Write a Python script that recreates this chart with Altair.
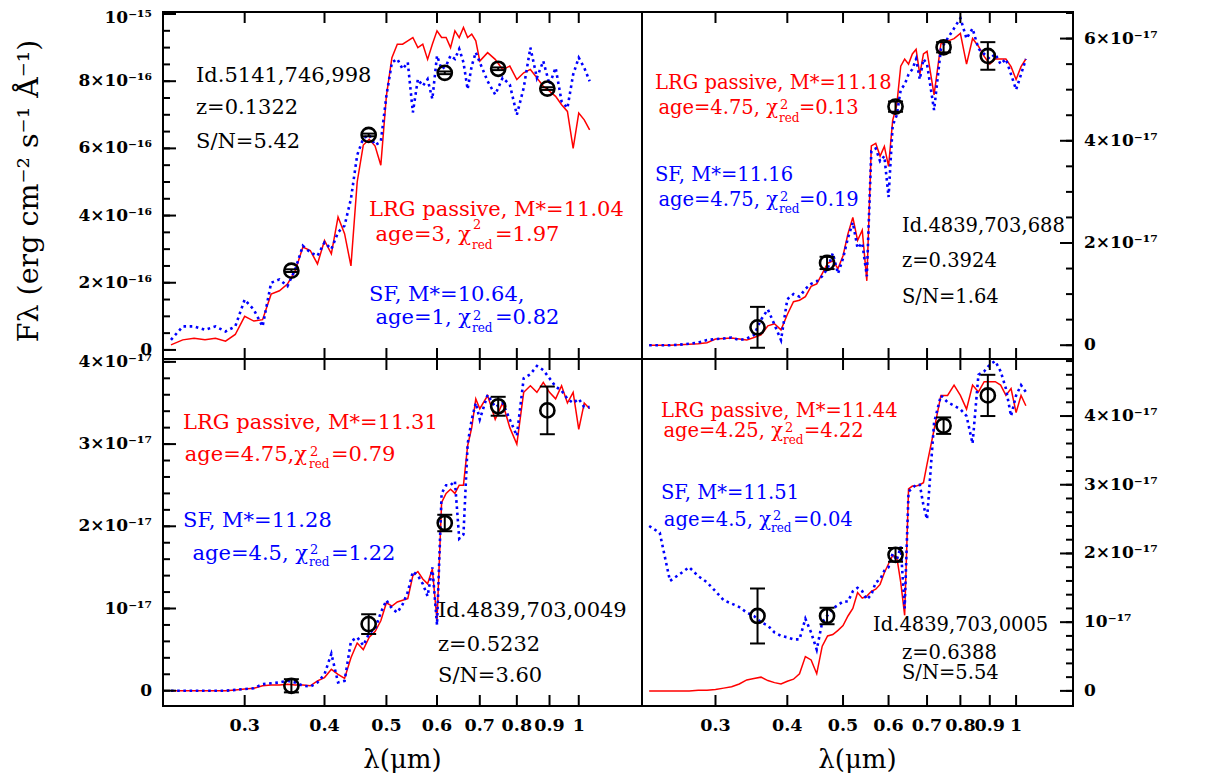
import altair as alt
import pandas as pd

# ---------------- data ----------------
LAM = [0.23, 0.24, 0.25, 0.26, 0.27, 0.28, 0.29, 0.30, 0.31, 0.32,
       0.33, 0.34, 0.35, 0.36, 0.37, 0.38, 0.39, 0.40, 0.41, 0.42,
       0.43, 0.44, 0.45, 0.46, 0.47, 0.48, 0.49, 0.50,
       0.51, 0.52, 0.53, 0.54, 0.55, 0.56, 0.57, 0.58, 0.59, 0.60,
       0.61, 0.62, 0.63, 0.64, 0.65, 0.66, 0.67, 0.68, 0.69, 0.70,
       0.72, 0.74, 0.76, 0.78, 0.80, 0.82, 0.84, 0.86, 0.88, 0.90,
       0.92, 0.94, 0.96, 0.98, 1.00, 1.02, 1.04]

# top-left (units 1e-16)
TL_RED = [0.15, 0.3, 0.35, 0.3, 0.35, 0.26, 0.46, 1.0, 0.86, 0.9,
          1.66, 1.76, 1.96, 2.36, 3.06, 2.96, 2.56, 3.26, 2.86, 3.96,
          3.46, 2.5, 5.0, 6.1, 6.27, 6.07, 5.5, 7.57,
          8.7, 9.1, 9.1, 9.2, 9.3, 9.0, 9.1, 8.65, 9.1, 9.5,
          9.3, 9.3, 9.0, 9.5, 9.3, 9.6, 9.3, 9.4, 9.2, 8.6,
          8.85, 8.65, 8.35, 8.45, 8.05, 8.25, 8.35, 8.1, 7.85, 7.7,
          7.55, 7.3, 7.1, 6.0, 7.05, 6.85, 6.55]
TL_BLUE = [0.3, 0.7, 0.7, 0.6, 0.7, 0.55, 0.7, 1.5, 1.2, 0.7,
           2.0, 2.1, 1.9, 2.4, 3.1, 2.9, 2.8, 3.2, 3.0, 3.5,
           3.7, 4.5, 5.8, 6.3, 6.4, 6.1, 6.2, 7.57,
           8.56, 8.66, 8.36, 8.56, 7.07, 8.06, 7.86, 8.06, 7.47, 8.76,
           8.36, 8.46, 8.76, 8.66, 8.96, 8.56, 7.76, 8.46, 8.86, 8.56,
           8.0, 7.6, 8.1, 7.9, 7.0, 7.8, 9.0, 8.1, 8.6, 7.9,
           8.4, 7.4, 7.2, 8.2, 8.7, 8.4, 8.0]

# top-right (units 1e-17)
TR_RED = [0.0, 0.0, 0.0, 0.01, 0.02, 0.03, 0.05, 0.12, 0.13, 0.14,
          0.12, 0.10, 0.15, 0.2, 0.38, 0.42, 0.3, 0.6, 0.85, 0.88,
          0.95, 1.15, 1.2, 1.4, 1.6, 1.65, 1.5, 1.75,
          2.18, 2.5, 2.05, 2.25, 1.26, 3.9, 3.95, 3.7, 3.89, 3.5,
          4.4, 4.7, 5.46, 5.6, 5.5, 5.7, 5.79, 5.3, 5.7, 5.75,
          4.9, 5.9, 5.95, 6.0, 6.1, 5.5, 6.0, 5.85, 5.65, 5.5,
          5.6, 5.6, 5.6, 5.45, 5.2, 5.45, 5.6]
TR_BLUE = [0.0, 0.0, 0.0, 0.01, 0.03, 0.05, 0.1, 0.12, 0.13, 0.15,
           0.1, 0.13, 0.2, 0.5, 0.7, 0.4, 0.1, 0.9, 1.0, 0.95,
           1.1, 1.2, 1.25, 1.35, 1.5, 1.8, 1.4, 1.7,
           2.1, 2.4, 1.9, 2.0, 1.35, 3.8, 3.85, 3.6, 3.7, 2.9,
           4.3, 4.5, 5.0, 5.1, 5.3, 5.4, 5.6, 5.2, 5.6, 5.5,
           4.6, 5.8, 6.0, 6.2, 6.4, 6.0, 6.2, 5.8, 5.7, 5.6,
           5.7, 5.5, 5.6, 5.3, 5.0, 5.3, 5.6]

# bottom-left (units 1e-17)
BL_RED = [0.0, 0.0, 0.0, 0.0, 0.0, 0.0, 0.01, 0.02, 0.03, 0.06,
          0.07, 0.07, 0.08, 0.07, 0.07, 0.06, 0.12, 0.16, 0.26, 0.2,
          0.15, 0.4, 0.58, 0.5, 0.65, 0.72, 0.85, 1.07,
          1.03, 1.08, 1.1, 1.12, 1.4, 1.45, 1.36, 1.3, 1.48, 0.85,
          2.29, 2.4, 2.45, 2.4, 2.5, 2.5, 2.98, 3.2, 3.55, 3.43,
          3.59, 3.3, 3.5, 3.2, 3.0, 3.63, 3.71, 3.63, 3.75, 3.63,
          3.55, 3.71, 3.5, 3.63, 3.18, 3.5, 3.43]
BL_BLUE = [0.0, 0.0, 0.0, 0.0, 0.0, 0.0, 0.01, 0.02, 0.03, 0.08,
           0.09, 0.1, 0.12, 0.1, 0.06, 0.05, 0.1, 0.2, 0.45, 0.1,
           0.12, 0.6, 0.65, 0.55, 0.7, 0.75, 0.95, 1.1,
           1.0, 0.95, 1.05, 1.2, 1.45, 1.4, 1.3, 1.15, 1.5, 0.8,
           2.4, 2.5, 2.5, 2.55, 1.85, 1.9, 3.0, 3.3, 3.5, 3.3,
           3.6, 3.45, 3.5, 3.3, 3.1, 3.8, 3.85, 3.95, 3.9, 3.8,
           3.7, 3.65, 3.55, 3.5, 3.55, 3.45, 3.45]

# bottom-right (units 1e-17)
BR_RED = [0.0, 0.0, 0.0, 0.0, 0.0, 0.01, 0.01, 0.02, 0.04, 0.06,
          0.1, 0.16, 0.18, 0.2, 0.15, 0.12, 0.1, 0.14, 0.17, 0.25,
          0.5, 0.45, 0.25, 0.65, 0.8, 0.82, 0.88, 0.95,
          1.09, 1.2, 1.43, 1.35, 1.38, 1.45, 1.48, 1.55, 1.72, 1.85,
          1.97, 1.95, 1.58, 1.1, 2.94, 2.98, 2.98, 3.0, 3.03, 3.3,
          3.8, 4.3, 4.3, 4.45, 4.3, 4.1, 4.45, 4.35, 4.5, 4.5,
          4.5, 4.45, 4.3, 4.4, 4.05, 4.3, 4.15]
BR_BLUE = [2.4, 2.3, 1.6, 1.7, 1.8, 1.67, 1.58, 1.45, 1.32, 1.27,
           1.22, 1.14, 1.09, 1.0, 0.95, 0.85, 0.8, 0.78, 0.75, 0.75,
           1.05, 0.85, 0.6, 1.0, 1.1, 1.2, 1.25, 1.3,
           1.3, 1.45, 1.5, 1.45, 1.33, 1.4, 1.58, 1.62, 1.75, 1.8,
           2.0, 1.9, 2.1, 1.2, 2.9, 2.95, 3.0, 3.0, 2.7, 2.5,
           3.9, 4.3, 4.2, 4.15, 4.1, 4.0, 3.6, 4.6, 4.65, 4.75,
           4.8, 4.65, 4.4, 4.0, 4.3, 4.45, 4.35]

# photometry (ugriz)
BANDS = [0.355, 0.469, 0.617, 0.748, 0.893]
TL_PHOT = [2.36, 6.40, 8.25, 8.37, 7.78]
TL_ERR = [0.04, 0.04, 0.04, 0.04, 0.04]
TR_PHOT = [0.35, 1.61, 4.67, 5.83, 5.66]
TR_ERR = [0.40, 0.12, 0.10, 0.10, 0.27]
BL_PHOT = [0.06, 0.81, 2.04, 3.46, 3.41]
BL_ERR = [0.08, 0.12, 0.10, 0.115, 0.29]
BR_PHOT = [1.09, 1.09, 1.98, 3.86, 4.30]
BR_ERR = [0.40, 0.12, 0.10, 0.12, 0.30]

# axis ticks and labels
XTICKS = [0.3, 0.4, 0.5, 0.6, 0.7, 0.8, 0.9, 1.0]
XLABELS = ["0.3", "0.4", "0.5", "0.6", "0.7", "0.8", "0.9", "1"]
TL_YT = [0, 2, 4, 6, 8, 10]
TL_YLAB = ["0", "2×10⁻¹⁶", "4×10⁻¹⁶", "6×10⁻¹⁶", "8×10⁻¹⁶", "10⁻¹⁵"]
TR_YT = [0, 2, 4, 6]
TR_YLAB = ["0", "2×10⁻¹⁷", "4×10⁻¹⁷", "6×10⁻¹⁷"]
B_YT = [0, 1, 2, 3, 4]
B_YLAB = ["0", "10⁻¹⁷", "2×10⁻¹⁷", "3×10⁻¹⁷", "4×10⁻¹⁷"]
YTITLE = "Fλ (erg cm⁻² s⁻¹ Å⁻¹)"
XTITLE = "λ(μm)"

# ---------------- styling ----------------
FONT = "DejaVu Serif"
RED = "#ff0000"
BLUE = "#0000ff"
BLACK = "#000000"
XDOM = [0.2235, 1.256]
LEFT_W, RIGHT_W = 479, 431
TOP_H, BOT_H = 347, 347


def text_layers(specs, x0, y0, fs):
    out = []
    for t, px, py, color, kind, align in specs:
        size = fs if kind == "m" else (13 if kind == "p" else 12)
        out.append(
            alt.Chart(alt.Data(values=[{}]))
            .mark_text(text=t, align=align, baseline="alphabetic", font=FONT,
                       fontSize=size, color=color)
            .encode(x=alt.value(px - x0), y=alt.value(py - y0))
        )
    return out


def panel(red, blue, phot, err, ydom, ymajor, ylabels, yminor, side, show_x,
          width, height, texts, x0, y0, fs, ytitle=False, top_dy=0):
    xs = alt.Scale(type="log", domain=XDOM, nice=False)
    ys = alt.Scale(domain=ydom, nice=False, zero=False)
    X = lambda: alt.X("lam:Q", scale=xs, axis=None)
    Y = lambda f: alt.Y(f, scale=ys, axis=None)

    sdf = pd.DataFrame({"lam": LAM, "red": red, "blue": blue})
    pdf = pd.DataFrame({"lam": BANDS, "f": phot,
                        "lo": [p - e for p, e in zip(phot, err)],
                        "hi": [p + e for p, e in zip(phot, err)]})

    red_line = alt.Chart(sdf).mark_line(color=RED, strokeWidth=1.5, clip=True).encode(
        x=X(), y=Y("red:Q"))
    blue_line = alt.Chart(sdf).mark_line(color=BLUE, strokeWidth=2.6, strokeDash=[2.6, 3.6],
                                         clip=True).encode(x=X(), y=Y("blue:Q"))
    ebar = alt.Chart(pdf).mark_rule(color=BLACK, strokeWidth=2).encode(
        x=X(), y=Y("lo:Q"), y2="hi:Q")
    cap_lo = alt.Chart(pdf).mark_tick(orient="horizontal", size=15, thickness=2,
                                      color=BLACK, opacity=1).encode(x=X(), y=Y("lo:Q"))
    cap_hi = alt.Chart(pdf).mark_tick(orient="horizontal", size=15, thickness=2,
                                      color=BLACK, opacity=1).encode(x=X(), y=Y("hi:Q"))
    pts = alt.Chart(pdf).mark_point(shape="circle", size=200, strokeWidth=2.6,
                                    color=BLACK, filled=False, opacity=1).encode(
        x=X(), y=Y("f:Q"))

    # frame ticks (inward)
    xt = pd.DataFrame({"lam": XTICKS, "lab": XLABELS})
    top_t = alt.Chart(xt).mark_rule(color=BLACK, strokeWidth=2).encode(
        x=X(), y=alt.value(0), y2=alt.value(11))
    bot_t = alt.Chart(xt).mark_rule(color=BLACK, strokeWidth=2).encode(
        x=X(), y=alt.value(height), y2=alt.value(height - 11))
    ymin = pd.DataFrame({"f": yminor})
    if side == "left":
        xa, xb_maj, xb_min = 0, 13, 7
        lab_x, lab_align = -11, "right"
    else:
        xa, xb_maj, xb_min = width, width - 13, width - 7
        lab_x, lab_align = width + 11, "left"
    ymaj_t = alt.Chart(pd.DataFrame({"f": ymajor})).mark_rule(
        color=BLACK, strokeWidth=2).encode(
        y=Y("f:Q"), x=alt.value(xa), x2=alt.value(xb_maj))
    ymin_t = alt.Chart(ymin).mark_rule(color=BLACK, strokeWidth=2).encode(
        y=Y("f:Q"), x=alt.value(xa), x2=alt.value(xb_min))

    def ylab_layer(vals, labs, dy):
        return alt.Chart(pd.DataFrame({"f": vals, "lab": labs})).mark_text(
            align=lab_align, baseline="middle", font=FONT, fontSize=17,
            fontWeight="bold", color=BLACK, dy=dy).encode(
            y=Y("f:Q"), x=alt.value(lab_x), text="lab:N")

    layers = [red_line, blue_line, ebar, cap_lo, cap_hi, pts, top_t, bot_t,
              ymaj_t, ymin_t]
    if top_dy:
        layers.append(ylab_layer(ymajor[:-1], ylabels[:-1], 0))
        layers.append(ylab_layer(ymajor[-1:], ylabels[-1:], top_dy))
    else:
        layers.append(ylab_layer(ymajor, ylabels, 0))
    if show_x:
        layers.append(
            alt.Chart(xt).mark_text(baseline="middle", align="center", font=FONT,
                                    fontSize=17.5, fontWeight="bold", color=BLACK)
            .encode(x=X(), y=alt.value(height + 20), text="lab:N"))
        layers.append(
            alt.Chart(alt.Data(values=[{}]))
            .mark_text(text=XTITLE, baseline="middle", align="center", font=FONT,
                       fontSize=26, color=BLACK)
            .encode(x=alt.value(width / 2), y=alt.value(height + 54)))
    if ytitle:
        layers.append(
            alt.Chart(alt.Data(values=[{}]))
            .mark_text(text=YTITLE, baseline="middle", align="center", angle=270,
                       font=FONT, fontSize=28.5, color=BLACK)
            .encode(x=alt.value(-134), y=alt.value(179)))
    layers += text_layers(texts, x0, y0, fs)
    return alt.layer(*layers).properties(width=width, height=height)


TL_TXT = [
    ("Id.5141,746,998", 195, 83, BLACK, "m", "left"),
    ("z=0.1322", 195, 115, BLACK, "m", "left"),
    ("S/N=5.42", 195, 149, BLACK, "m", "left"),
    ("LRG passive, M*=11.04", 368, 217, RED, "m", "left"),
    ("age=3, χ", 470, 242, RED, "m", "right"),
    ("2", 472, 230, RED, "p", "left"),
    ("red", 471, 250, RED, "s", "left"),
    ("=1.97", 494, 242, RED, "m", "left"),
    ("SF, M*=10.64,", 368, 302, BLUE, "m", "left"),
    ("age=1, χ", 470, 325, BLUE, "m", "right"),
    ("2", 472, 321, BLUE, "p", "left"),
    ("red", 471, 333, BLUE, "s", "left"),
    ("=0.82", 494, 325, BLUE, "m", "left"),
]
TR_TXT = [
    ("LRG passive, M*=11.18", 654, 90, RED, "m", "left"),
    ("age=4.75, χ", 777, 115, RED, "m", "right"),
    ("2", 779, 110, RED, "p", "left"),
    ("red", 778, 123, RED, "s", "left"),
    ("=0.13", 798, 115, RED, "m", "left"),
    ("SF, M*=11.16", 654, 182, BLUE, "m", "left"),
    ("age=4.75, χ", 777, 207, BLUE, "m", "right"),
    ("2", 779, 202, BLUE, "p", "left"),
    ("red", 778, 214, BLUE, "s", "left"),
    ("=0.19", 798, 207, BLUE, "m", "left"),
    ("Id.4839,703,688", 901, 233, BLACK, "m", "left"),
    ("z=0.3924", 901, 268, BLACK, "m", "left"),
    ("S/N=1.64", 901, 304, BLACK, "m", "left"),
]
BL_TXT = [
    ("LRG passive, M*=11.31", 182, 430, RED, "m", "left"),
    ("age=4.75,χ", 306, 462, RED, "m", "right"),
    ("2", 309, 457, RED, "p", "left"),
    ("red", 308, 469, RED, "s", "left"),
    ("=0.79", 330, 462, RED, "m", "left"),
    ("SF, M*=11.28", 182, 528, BLUE, "m", "left"),
    ("age=4.5, χ", 307, 561, BLUE, "m", "right"),
    ("2", 309, 555, BLUE, "p", "left"),
    ("red", 308, 567, BLUE, "s", "left"),
    ("=1.22", 330, 561, BLUE, "m", "left"),
    ("Id.4839,703,0049", 437, 618, BLACK, "m", "left"),
    ("z=0.5232", 437, 652, BLACK, "m", "left"),
    ("S/N=3.60", 437, 683, BLACK, "m", "left"),
]
BR_TXT = [
    ("LRG passive, M*=11.44", 660, 418, RED, "m", "left"),
    ("age=4.25, χ", 782, 438, RED, "m", "right"),
    ("2", 784, 433, RED, "p", "left"),
    ("red", 782, 445, RED, "s", "left"),
    ("=4.22", 803, 438, RED, "m", "left"),
    ("SF, M*=11.51", 660, 500, BLUE, "m", "left"),
    ("age=4.5, χ", 770, 527, BLUE, "m", "right"),
    ("2", 772, 521, BLUE, "p", "left"),
    ("red", 770, 533, BLUE, "s", "left"),
    ("=0.04", 792, 527, BLUE, "m", "left"),
    ("Id.4839,703,0005", 872, 632, BLACK, "m", "left"),
    ("z=0.6388", 901, 660, BLACK, "m", "left"),
    ("S/N=5.54", 901, 680, BLACK, "m", "left"),
]

tl = panel(TL_RED, TL_BLUE, TL_PHOT, TL_ERR, [-0.27, 10.06], TL_YT, TL_YLAB,
           [i * 0.5 for i in range(21)], "left", False, LEFT_W, TOP_H,
           TL_TXT, 162, 13, 21, ytitle=True, top_dy=4)
tr = panel(TR_RED, TR_BLUE, TR_PHOT, TR_ERR, [-0.27, 6.52], TR_YT, TR_YLAB,
           [i * 0.5 for i in range(14)], "right", False, RIGHT_W, TOP_H,
           TR_TXT, 641, 13, 19.5)
bl = panel(BL_RED, BL_BLUE, BL_PHOT, BL_ERR, [-0.186, 4.035], B_YT, B_YLAB,
           [round(i * 0.2, 1) for i in range(21)], "left", True, LEFT_W, BOT_H,
           BL_TXT, 162, 360, 21)
br = panel(BR_RED, BR_BLUE, BR_PHOT, BR_ERR, [-0.22, 4.83], B_YT, B_YLAB,
           [round(i * 0.2, 1) for i in range(25)], "right", True, RIGHT_W, BOT_H,
           BR_TXT, 641, 360, 19.5)

chart = (
    alt.concat(tl, tr, bl, br, columns=2, spacing=0, bounds="flush")
    .resolve_scale(x="independent", y="independent")
    .properties(padding={"left": 6, "top": 0, "right": 5, "bottom": 0},
                background="white")
    .configure_view(stroke=BLACK, strokeWidth=2)
)

chart.save("out.html", embed_options={"renderer": "svg", "actions": False})
